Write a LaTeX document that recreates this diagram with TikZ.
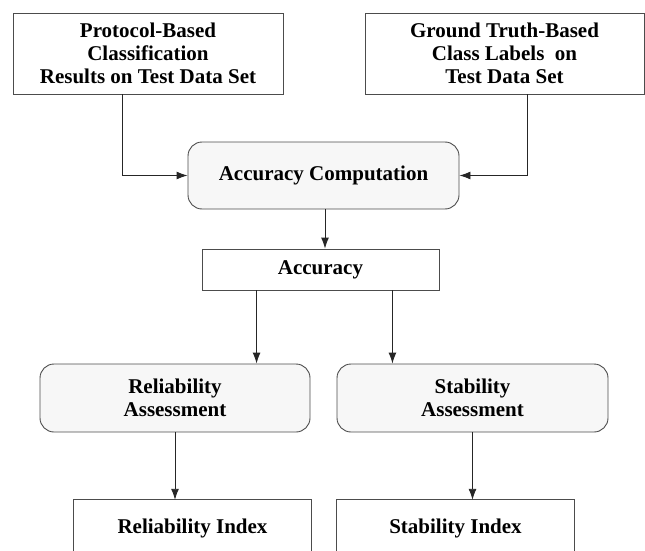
\documentclass[tikz,border=0pt]{standalone}
\usepackage{fontspec}
\setmainfont{Liberation Serif}
\usetikzlibrary{arrows.meta}
\tikzset{
  base/.style={draw=black!70, line width=0.9pt, inner sep=0pt, align=center,
    font=\fontsize{21}{23}\selectfont\bfseries},
  sqbox/.style={base, fill=white},
  rbox/.style={base, fill=black!3, rounded corners=14pt},
  openbox/.style={inner sep=0pt, align=center, font=\fontsize{21}{23}\selectfont\bfseries},
  arr/.style={draw=black!85, line width=0.9pt, -{Latex[length=11pt,width=8pt]}},
  edge/.style={draw=black!70, line width=0.9pt}
}
\begin{document}
\begin{tikzpicture}[x=1pt,y=-1pt]
\useasboundingbox (0,0) rectangle (645,551);
\node[sqbox, minimum width=270pt, minimum height=81pt] (tl) at (148,53.5)
  {Protocol-Based\\Classification\\Results on Test Data Set};
\node[sqbox, minimum width=279pt, minimum height=81pt] (tr) at (504.5,53.5)
  {Ground Truth-Based\\Class Labels~ on\\Test Data Set};
\node[rbox, minimum width=271pt, minimum height=67pt] (ac) at (323.5,175.5)
  {Accuracy Computation};
\node[sqbox, minimum width=237pt, minimum height=41pt] (acc) at (320.5,269.5)
  {Accuracy};
\node[rbox, minimum width=270pt, minimum height=68pt] (rel) at (175,398)
  {Reliability\\Assessment};
\node[rbox, minimum width=271pt, minimum height=68pt] (sta) at (472.5,398)
  {Stability\\Assessment};
\node[openbox, minimum width=237pt, minimum height=56pt] (ri) at (192.5,528)
  {Reliability Index};
\node[openbox, minimum width=237pt, minimum height=56pt] (si) at (455.5,528)
  {Stability Index};
\coordinate (bot) at (0,551);
\draw[edge] (ri.north west |- bot) -- (ri.north west) -- (ri.north east) -- (ri.north east |- bot);
\draw[edge] (si.north west |- bot) -- (si.north west) -- (si.north east) -- (si.north east |- bot);
\draw[arr] ([xshift=110pt]tl.south west) |- (ac.west);
\draw[arr] ([xshift=-117pt]tr.south east) |- (ac.east);
\draw[arr] ([xshift=1.5pt]ac.south) -- ([xshift=1.5pt]ac.south |- acc.north);
\draw[arr] ([xshift=55pt]acc.south west) -- ([xshift=55pt]acc.south west |- rel.north);
\draw[arr] ([xshift=-47pt]acc.south east) -- ([xshift=-47pt]acc.south east |- sta.north);
\draw[arr] (rel.south) -- (rel.south |- ri.north);
\draw[arr] (sta.south) -- (sta.south |- si.north);
\end{tikzpicture}
\end{document}
